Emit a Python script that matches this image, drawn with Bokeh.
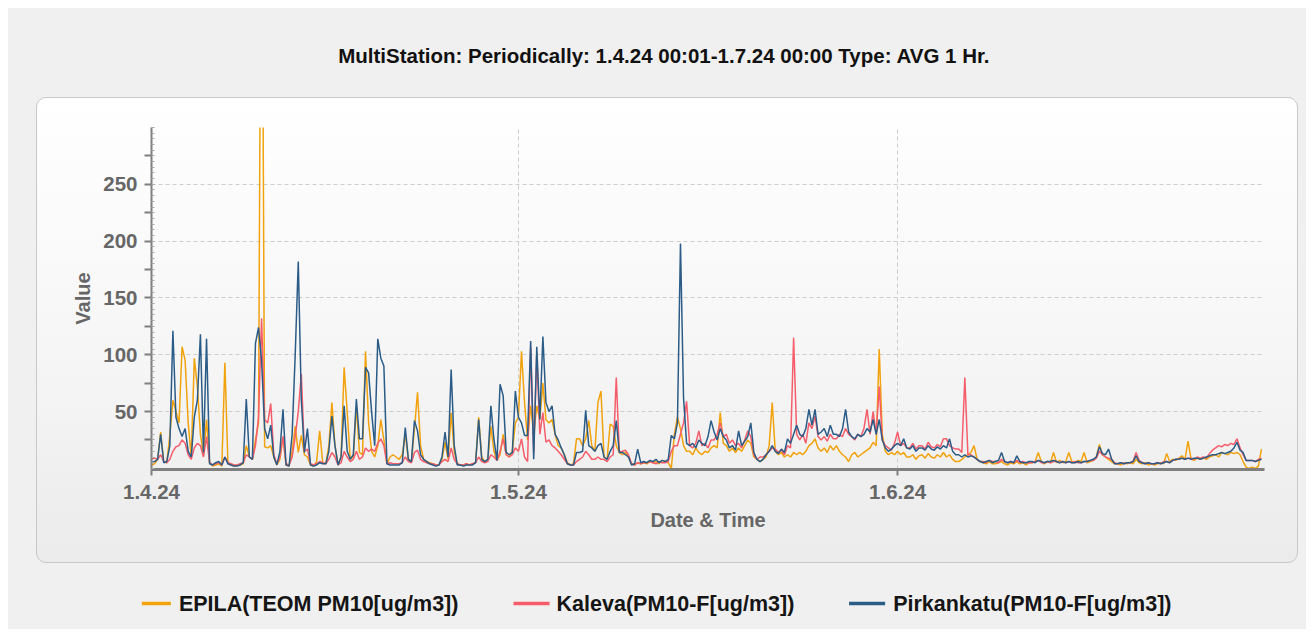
import pandas as pd
from bokeh.plotting import figure
from bokeh.models import Range1d, FixedTicker
from bokeh.layouts import column
from bokeh.embed import file_html
from bokeh.resources import INLINE
from bokeh.core.properties import value

# ---------------- data ----------------
title_text = "MultiStation:  Periodically: 1.4.24 00:01-1.7.24 00:00  Type: AVG 1 Hr."
series_names = ["EPILA(TEOM PM10[ug/m3])", "Kaleva(PM10-F[ug/m3])", "Pirkankatu(PM10-F[ug/m3])"]
series_colors = ["#f2a20d", "#f65d6b", "#2b5c87"]
start_date = "2024-04-01"
end_date = "2024-07-01"
step = "6h"
tick_dates = ["2024-04-01", "2024-05-01", "2024-06-01"]
tick_labels = ["1.4.24", "1.5.24", "1.6.24"]
y_labels = [50, 100, 150, 200, 250]

epila = [
    3, 4, 8, 32, 6, 5, 29, 60, 50, 40, 107, 95, 40, 10, 97, 72, 30, 12, 43, 5,
    2, 3, 4, 2, 93, 4, 3, 2, 3, 3, 4, 20, 10, 8, 25, 40, 600, 19, 18, 20,
    10, 3, 8, 28, 3, 2, 15, 37, 14, 29, 12, 10, 3, 2, 6, 33, 5, 4, 20, 58,
    20, 3, 10, 89, 50, 8, 10, 55, 14, 12, 103, 40, 15, 10, 20, 43, 25, 4, 10, 12,
    10, 8, 12, 30, 8, 6, 35, 67, 20, 8, 6, 5, 4, 3, 3, 8, 23, 8, 49, 15,
    4, 3, 3, 4, 3, 4, 5, 45, 10, 6, 8, 37, 15, 7, 12, 30, 12, 10, 15, 40,
    45, 103, 58, 25, 55, 30, 55, 43, 75, 43, 40, 43, 30, 20, 18, 12, 5, 3, 4, 26,
    26, 20, 26, 42, 20, 15, 58, 68, 10, 8, 39, 37, 20, 14, 12, 14, 10, 4, 3, 5,
    4, 5, 4, 6, 5, 6, 4, 7, 6, 5, 0, 30, 45, 35, 20, 15, 15, 12, 18, 14,
    12, 15, 14, 18, 20, 18, 49, 22, 20, 15, 18, 14, 18, 15, 20, 25, 22, 10, 8, 6,
    8, 10, 20, 58, 15, 12, 14, 10, 12, 10, 14, 12, 14, 12, 15, 20, 22, 26, 18, 15,
    18, 14, 20, 16, 20, 15, 12, 10, 6, 12, 14, 10, 12, 14, 16, 18, 23, 20, 105, 30,
    15, 12, 14, 12, 15, 12, 14, 10, 10, 12, 8, 11, 12, 9, 13, 10, 9, 12, 10, 14,
    10, 12, 8, 6, 6, 8, 10, 12, 14, 20, 8, 6, 5, 4, 6, 4, 4, 5, 6, 4,
    3, 5, 4, 6, 4, 5, 3, 5, 5, 6, 14, 6, 4, 6, 5, 14, 5, 7, 5, 6,
    14, 6, 5, 7, 6, 14, 5, 6, 7, 10, 21, 12, 10, 8, 6, 4, 4, 3, 5, 4,
    5, 4, 8, 5, 4, 5, 3, 4, 3, 4, 5, 4, 13, 6, 8, 7, 9, 11, 8, 24,
    8, 7, 9, 8, 9, 8, 10, 11, 12, 10, 14, 13, 12, 14, 13, 14, 12, 6, 1, 0,
    1, 0, 2, 17,
]

kaleva = [
    8, 9, 8, 12, 6, 5, 8, 15, 19, 20, 25, 22, 12, 8, 18, 22, 20, 10, 28, 5,
    3, 4, 5, 3, 10, 5, 4, 3, 3, 4, 5, 12, 10, 8, 20, 45, 132, 43, 40, 57,
    12, 4, 10, 28, 4, 3, 10, 28, 50, 83, 15, 17, 4, 3, 4, 6, 5, 4, 8, 14,
    10, 3, 5, 15, 10, 6, 8, 15, 8, 10, 18, 15, 17, 15, 22, 26, 20, 4, 5, 4,
    4, 4, 5, 10, 6, 5, 14, 16, 8, 6, 5, 4, 4, 3, 3, 6, 8, 6, 18, 8,
    4, 3, 3, 4, 3, 4, 5, 10, 6, 5, 6, 12, 10, 7, 15, 26, 12, 10, 12, 18,
    15, 26, 10, 6, 107, 14, 102, 30, 49, 23, 25, 20, 18, 15, 12, 8, 4, 3, 3, 6,
    8, 10, 15, 12, 8, 8, 10, 8, 8, 6, 10, 12, 80, 14, 15, 16, 12, 4, 3, 5,
    4, 5, 5, 6, 5, 4, 6, 5, 5, 6, 15, 20, 20, 30, 40, 59, 20, 18, 22, 33,
    20, 22, 18, 25, 25, 30, 40, 28, 30, 22, 25, 20, 22, 18, 25, 33, 28, 12, 8, 10,
    10, 12, 15, 18, 17, 14, 16, 12, 20, 18, 115, 30, 25, 30, 22, 40, 35, 46, 28, 25,
    28, 24, 30, 26, 26, 30, 28, 35, 30, 28, 25, 30, 28, 35, 52, 30, 50, 30, 72, 25,
    20, 18, 16, 22, 32, 20, 22, 18, 18, 22, 17, 20, 20, 17, 23, 19, 18, 21, 19, 26,
    26, 20, 18, 17, 17, 14, 80, 12, 12, 10, 8, 6, 6, 5, 7, 6, 6, 5, 8, 6,
    5, 6, 5, 7, 5, 6, 5, 5, 5, 6, 7, 5, 5, 6, 5, 6, 6, 5, 6, 5,
    6, 5, 6, 5, 5, 6, 6, 7, 7, 9, 15, 12, 10, 9, 8, 5, 4, 5, 4, 5,
    5, 6, 14, 7, 5, 4, 5, 4, 4, 5, 4, 6, 6, 5, 7, 8, 8, 9, 8, 9,
    9, 8, 10, 9, 10, 9, 13, 16, 18, 20, 19, 21, 20, 22, 21, 26, 18, 12, 7, 7,
    7, 6, 8, 9,
]

pirkankatu = [
    5, 6, 8, 30, 5, 6, 20, 121, 45, 35, 28, 35, 15, 10, 45, 60, 118, 14, 114, 4,
    3, 5, 6, 3, 10, 4, 3, 2, 2, 3, 5, 61, 10, 8, 110, 124, 95, 35, 26, 38,
    10, 3, 15, 52, 3, 2, 30, 100, 182, 60, 14, 35, 3, 2, 3, 5, 4, 4, 15, 46,
    20, 3, 10, 55, 15, 8, 12, 61, 26, 26, 89, 84, 49, 20, 114, 97, 90, 4, 3, 3,
    3, 3, 5, 36, 8, 6, 42, 33, 12, 8, 6, 4, 3, 2, 3, 10, 32, 10, 87, 20,
    3, 3, 2, 3, 3, 3, 5, 43, 8, 6, 8, 55, 25, 7, 74, 64, 14, 12, 14, 68,
    45, 40, 29, 29, 112, 8, 107, 43, 116, 58, 50, 55, 30, 25, 18, 12, 4, 3, 3, 14,
    14, 15, 51, 20, 18, 15, 20, 22, 10, 8, 15, 20, 42, 14, 14, 12, 10, 3, 4, 17,
    5, 6, 5, 7, 6, 8, 5, 7, 6, 8, 29, 26, 40, 198, 62, 22, 20, 22, 18, 25,
    22, 20, 28, 42, 32, 25, 35, 28, 25, 18, 20, 16, 33, 20, 24, 28, 40, 14, 8, 6,
    8, 12, 15, 20, 15, 13, 17, 14, 26, 22, 30, 38, 30, 28, 35, 52, 38, 52, 30, 32,
    35, 28, 38, 30, 30, 28, 35, 52, 32, 28, 26, 30, 28, 30, 35, 32, 43, 30, 43, 25,
    18, 15, 17, 20, 22, 20, 26, 18, 17, 20, 15, 18, 18, 16, 20, 17, 16, 19, 17, 20,
    18, 26, 15, 12, 12, 10, 12, 10, 11, 10, 8, 6, 5, 6, 7, 5, 6, 7, 14, 6,
    5, 6, 5, 11, 6, 5, 5, 6, 6, 5, 7, 6, 5, 6, 6, 7, 6, 5, 6, 5,
    6, 5, 5, 6, 5, 6, 6, 7, 8, 10, 19, 13, 12, 17, 8, 4, 4, 5, 4, 5,
    5, 6, 11, 6, 5, 4, 5, 4, 4, 5, 4, 5, 6, 5, 7, 8, 8, 9, 8, 9,
    8, 9, 9, 8, 9, 10, 11, 12, 12, 13, 14, 13, 14, 15, 18, 23, 16, 14, 7, 7,
    7, 6, 7, 8,
]

series_values = [epila, kaleva, pirkankatu]

# ---------------- styling ----------------
FONT = "Liberation Sans"
PAGE_BG = "#f0f0f0"
AXIS_GREY = "#7f7f7f"
LABEL_GREY = "#666666"
W = 1298
BORDER_L, BORDER_R = 114, 35
# the column aligns the strips' frames with the chart's frame; these are the
# resulting page-pixel edges of that shared frame, used as the strips' x range
FRAME_PX_L, FRAME_PX_R = 123.7, 1270.7

tick_ms = [int(pd.Timestamp(d).value // 10**6) for d in tick_dates]


def blank_strip(height):
    f = figure(width=W, height=height, x_range=Range1d(FRAME_PX_L, FRAME_PX_R),
               y_range=Range1d(0, height),
               x_axis_type=None, y_axis_type=None, toolbar_location=None,
               output_backend="svg", min_border=0,
               min_border_left=BORDER_L, min_border_right=BORDER_R)
    f.grid.visible = False
    f.outline_line_color = None
    f.background_fill_color = PAGE_BG
    f.border_fill_color = PAGE_BG
    return f


# ---------------- title strip ----------------
tf = blank_strip(89)
tf.text(x=[339], y=[42], text=[title_text], text_align="left", text_baseline="middle",
        text_font=value(FONT), text_font_style="bold", text_font_size="20.5px",
        text_color="#111111")

# ---------------- main chart ----------------
p = figure(width=1262, height=466, x_axis_type="datetime",
           x_range=Range1d(pd.Timestamp(start_date), pd.Timestamp(end_date)),
           y_range=Range1d(-1, 300),
           toolbar_location=None, output_backend="svg",
           min_border_left=BORDER_L, min_border_right=BORDER_R,
           min_border_top=29, min_border_bottom=95,
           margin=(0, 0, 0, 28))
p.styles = {"border": "1px solid #c8c8c8", "border-radius": "10px",
            "background": "linear-gradient(#ffffff 0%, #f6f6f6 55%, #ebebeb 100%)"}
p.border_fill_alpha = 0
p.background_fill_alpha = 0
p.outline_line_color = None

for name, col, ys in zip(series_names, series_colors, series_values):
    ts = pd.date_range(start_date, periods=len(ys), freq=step)
    p.line(x=ts, y=ys, line_color=col, line_width=1.5)

# x axis
xa = p.xaxis[0]
xa.ticker = FixedTicker(ticks=tick_ms, minor_ticks=[])
xa.major_label_overrides = {t: lab for t, lab in zip(tick_ms, tick_labels)}
xa.axis_label = "Date & Time"
xa.axis_line_color = AXIS_GREY
xa.axis_line_width = 3
xa.major_tick_line_color = AXIS_GREY
xa.major_tick_line_width = 2
xa.major_tick_out = 6
xa.major_tick_in = 0
xa.major_label_standoff = 9
xa.axis_label_standoff = 7

# y axis
ya = p.yaxis[0]
y_major = list(range(25, 300, 25))
ya.ticker = FixedTicker(ticks=y_major, minor_ticks=list(range(0, 301, 5)))
ya.major_label_overrides = {t: (str(t) if t in y_labels else "") for t in y_major}
ya.axis_label = "Value"
ya.axis_line_color = AXIS_GREY
ya.axis_line_width = 2
ya.major_tick_line_color = AXIS_GREY
ya.major_tick_line_width = 2
ya.major_tick_out = 7
ya.major_tick_in = 0
ya.minor_tick_line_color = "#a8a8a8"
ya.minor_tick_in = 3
ya.minor_tick_out = 0
ya.major_label_standoff = 7
ya.axis_label_standoff = 6

for ax in (xa, ya):
    ax.major_label_text_font = FONT
    ax.major_label_text_font_style = "bold"
    ax.major_label_text_font_size = "20.5px"
    ax.major_label_text_color = LABEL_GREY
    ax.axis_label_text_font = FONT
    ax.axis_label_text_font_style = "bold"
    ax.axis_label_text_font_size = "20px"
    ax.axis_label_text_color = LABEL_GREY

p.xgrid.ticker = FixedTicker(ticks=tick_ms)
p.ygrid.ticker = FixedTicker(ticks=y_labels)
for g in (p.xgrid[0], p.ygrid[0]):
    g.grid_line_color = "#cdcdcd"
    g.grid_line_dash = "4 3"
    g.grid_line_width = 1

# ---------------- legend strip ----------------
lf = blank_strip(66)
swatch_x0 = [143, 514, 849]
swatch_x1 = [172, 550, 885]
label_x = [180, 557, 893]
legend_y = 26
lf.segment(x0=swatch_x0, x1=swatch_x1, y0=[legend_y] * 3, y1=[legend_y] * 3,
           line_color=series_colors, line_width=3.5)
lf.text(x=label_x, y=[legend_y] * 3,
        text=series_names, text_align="left", text_baseline="middle",
        text_font=value(FONT), text_font_style="bold", text_font_size="21.5px",
        text_color="#151515")

layout = column(tf, p, lf, spacing=0, margin=(8, 8, 8, 8), styles={"background": PAGE_BG})

open("out.html", "w").write(file_html(layout, INLINE))
